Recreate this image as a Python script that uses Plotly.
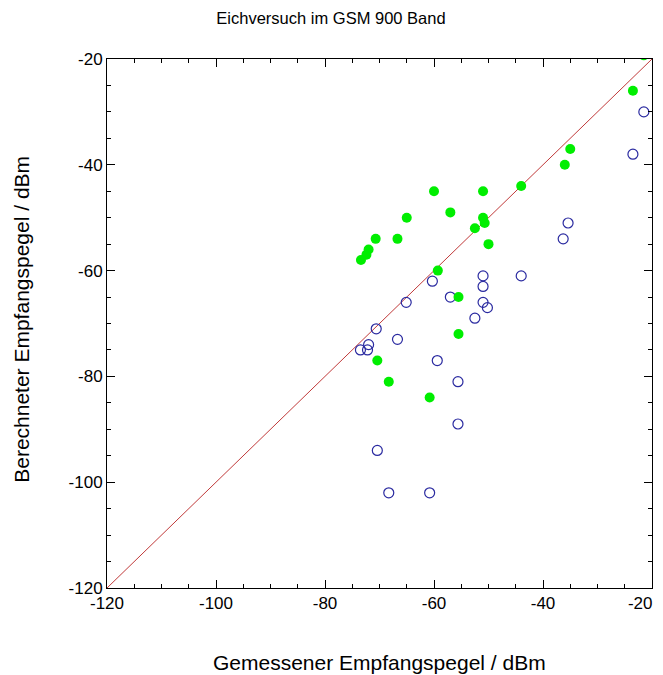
import plotly.graph_objects as go

green_x = [-21.5, -23.5, -35, -36, -44, -51, -51, -50.7, -50, -52.5, -60, -57, -65,
           -70.7, -66.7, -72, -72.4, -73.4, -59.3, -55.5, -55.5, -70.4, -68.3, -60.8]
green_y = [-19.3, -26, -37, -40, -44, -45, -50, -51, -55, -52, -45, -49, -50,
           -54, -54, -56, -57, -58, -60, -65, -72, -77, -81, -84]

blue_x = [-21.5, -23.5, -35.4, -36.3, -44, -51, -51, -51, -50.2, -52.5, -60.3, -57, -65.1,
          -70.6, -66.7, -72, -72.2, -73.5, -59.4, -55.6, -55.6, -70.4, -68.3, -60.8]
blue_y = [-30, -38, -51, -54, -61, -61, -63, -66, -67, -69, -62, -65, -66,
          -71, -73, -74, -75, -75, -77, -81, -89, -94, -102, -102]

line_x = [-120, -20]
line_y = [-120, -20]

tick_vals = [-120, -100, -80, -60, -40, -20]
y_tick_text = ["-120", "-100", "-80", "-60", "-40", "-20"]
# last x label sits a little left of the frame corner, as in the original
x_tick_text = ["-120", "-100", "-80", "-60", "-40", "-20&nbsp;&nbsp;&nbsp;&nbsp;&nbsp;"]

fig = go.Figure()
fig.add_trace(go.Scatter(x=line_x, y=line_y, mode="lines",
                         line=dict(color="#c03a3a", width=1), showlegend=False))
fig.add_trace(go.Scatter(x=blue_x, y=blue_y, mode="markers",
                         marker=dict(symbol="circle-open", size=10, color="#2a2aa0",
                                     line=dict(width=1.2)),
                         showlegend=False))
fig.add_trace(go.Scatter(x=green_x, y=green_y, mode="markers",
                         marker=dict(symbol="circle", size=10, color="#00ee00"),
                         showlegend=False))

axis_common = dict(
    range=[-120, -20],
    tickvals=tick_vals,
    ticks="inside",
    ticklen=8,
    tickcolor="black",
    minor=dict(dtick=5, ticks="inside", ticklen=4, tickcolor="black"),
    showline=True,
    linecolor="black",
    linewidth=1,
    mirror="allticks",
    showgrid=False,
    zeroline=False,
    automargin=False,
    tickfont=dict(size=17, color="black"),
)

# page body adds an 8px offset, so margins are shifted to compensate
fig.update_layout(
    width=663,
    height=667,
    paper_bgcolor="white",
    plot_bgcolor="white",
    font=dict(family="Liberation Sans, Arial, sans-serif", color="black"),
    margin=dict(l=99, r=19, t=51, b=87),
    title=dict(text="Eichversuch im GSM 900 Band", xref="paper", x=0.411,
               xanchor="center", y=0.985, yanchor="middle", font=dict(size=16.5)),
    xaxis=dict(axis_common, ticktext=x_tick_text, ticklabeloverflow="allow"),
    yaxis=dict(axis_common, ticktext=y_tick_text),
)

fig.add_annotation(text="Gemessener Empfangspegel / dBm", xref="paper", yref="paper",
                   x=0.5, y=0, xanchor="center", yanchor="middle", yshift=-74,
                   showarrow=False, font=dict(size=21))
fig.add_annotation(text="Berechneter Empfangspegel / dBm", xref="paper", yref="paper",
                   x=0, y=0.507, xanchor="center", yanchor="middle", xshift=-85,
                   textangle=-90, showarrow=False, font=dict(size=21))

fig.write_html("out.html")
